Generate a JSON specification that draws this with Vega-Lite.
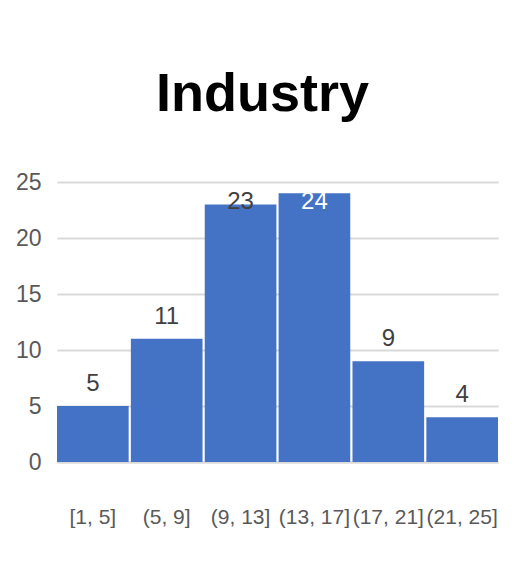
{
  "$schema": "https://vega.github.io/schema/vega-lite/v6.json",
  "autosize": {"type": "none"},
  "padding": {"left": 57, "top": 182, "right": 16, "bottom": 109},
  "width": 441,
  "height": 280,
  "background": "white",
  "title": {
    "text": "Industry",
    "font": "Liberation Sans",
    "fontSize": 54,
    "fontWeight": "bold",
    "color": "#000000",
    "anchor": "middle",
    "baseline": "alphabetic",
    "offset": 6,
    "dx": -15
  },
  "data": {
    "values": [
      {"bin": "[1, 5]", "count": 5},
      {"bin": "(5, 9]", "count": 11},
      {"bin": "(9, 13]", "count": 23},
      {"bin": "(13, 17]", "count": 24},
      {"bin": "(17, 21]", "count": 9},
      {"bin": "(21, 25]", "count": 4}
    ]
  },
  "encoding": {
    "x": {
      "field": "bin",
      "type": "nominal",
      "sort": null,
      "scale": {"paddingInner": 0.03, "paddingOuter": 0},
      "axis": {
        "title": null,
        "labelAngle": 0,
        "labelFont": "Liberation Sans",
        "labelFontSize": 21,
        "labelColor": "#595959",
        "labelPadding": 44,
        "ticks": false,
        "domainColor": "#d9d9d9",
        "domainWidth": 2,
        "grid": false
      }
    },
    "y": {
      "field": "count",
      "type": "quantitative",
      "scale": {"domain": [0, 25], "nice": false},
      "axis": {
        "title": null,
        "values": [0, 5, 10, 15, 20, 25],
        "labelFont": "Liberation Sans",
        "labelFontSize": 23,
        "labelColor": "#595959",
        "labelPadding": 16,
        "ticks": false,
        "domain": false,
        "grid": true,
        "gridColor": "#d9d9d9",
        "gridWidth": 2
      }
    }
  },
  "layer": [
    {"mark": {"type": "bar", "color": "#4472C4"}},
    {
      "transform": [{"filter": "datum.count < 20"}],
      "mark": {
        "type": "text",
        "baseline": "bottom",
        "dy": -10,
        "font": "Liberation Sans",
        "fontSize": 24,
        "color": "#404040"
      },
      "encoding": {"text": {"field": "count", "type": "quantitative"}}
    },
    {
      "transform": [{"filter": "datum.count == 23"}],
      "mark": {
        "type": "text",
        "baseline": "top",
        "dy": -14,
        "font": "Liberation Sans",
        "fontSize": 24,
        "color": "#404040"
      },
      "encoding": {"text": {"field": "count", "type": "quantitative"}}
    },
    {
      "transform": [{"filter": "datum.count == 24"}],
      "mark": {
        "type": "text",
        "baseline": "top",
        "dy": -3,
        "font": "Liberation Sans",
        "fontSize": 24,
        "color": "#ffffff"
      },
      "encoding": {"text": {"field": "count", "type": "quantitative"}}
    }
  ],
  "config": {"view": {"stroke": null}}
}
